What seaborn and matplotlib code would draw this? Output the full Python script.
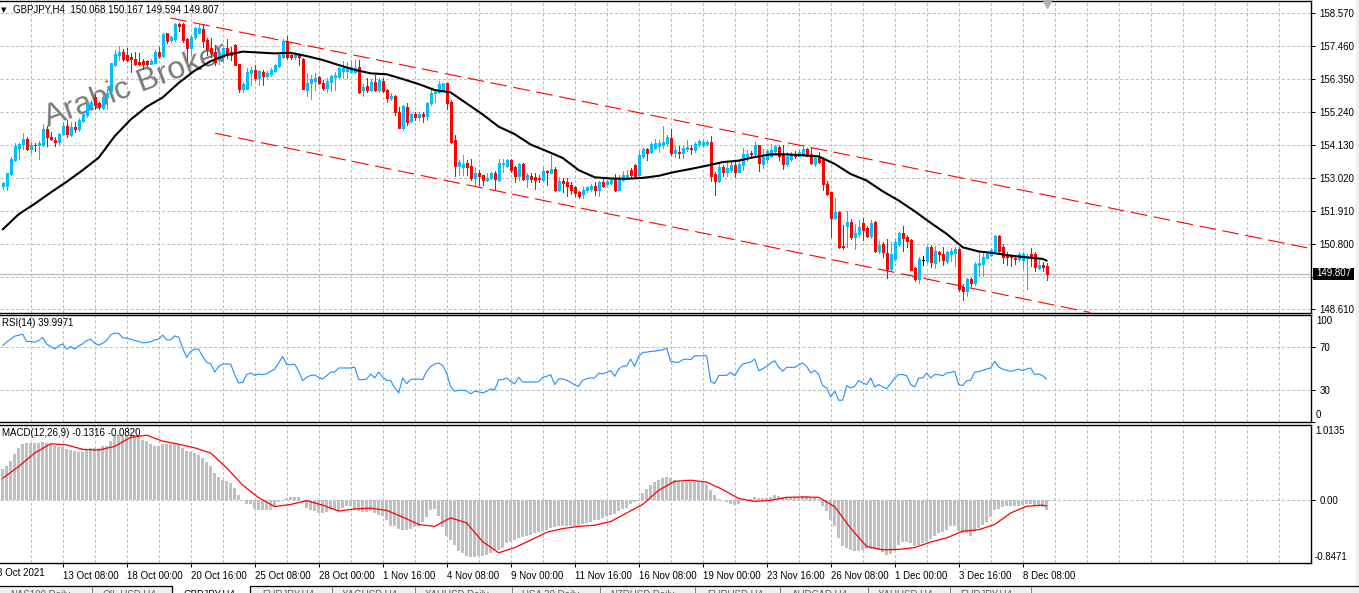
import numpy as np
import matplotlib
matplotlib.use("Agg")
import matplotlib.pyplot as plt
from matplotlib.patches import Rectangle
from matplotlib.lines import Line2D
import seaborn as sns

# OHLC of GBPJPY H4
opens = [152.74,152.74,153.14,153.63,154.04,154.15,154.34,153.98,154.14,154.11,
    154.12,154.66,154.4,154.29,154.21,154.49,154.76,154.45,154.73,154.66,
    154.94,155.13,155.41,155.72,155.52,155.38,155.72,155.95,156.8,157.15,
    157.26,157.15,157.07,157.0,156.9,156.95,156.94,156.86,156.89,157.26,
    157.11,157.87,157.65,157.67,158.19,158.19,157.68,157.37,157.74,157.9,
    158.02,157.65,157.37,157.26,156.98,157.09,157.37,157.26,157.48,156.84,
    156.02,156.02,156.53,156.64,156.39,156.58,156.44,156.5,156.62,156.78,
    157.09,157.59,157.15,157.07,157.15,157.0,155.98,156.19,156.27,156.41,
    156.2,156.05,156.25,156.42,156.42,156.62,156.62,156.58,156.58,156.73,
    155.97,156.1,155.97,156.25,155.97,156.28,155.97,155.69,155.77,155.24,
    154.68,155.41,154.93,155.16,155.05,155.16,155.1,155.52,155.86,155.91,
    155.97,156.19,155.58,154.29,153.41,153.39,153.52,153.41,153.0,153.17,
    153.11,152.94,153.0,153.17,152.94,153.48,153.41,153.61,153.37,153.08,
    153.48,152.97,153.09,153.05,153.03,152.94,153.26,153.19,153.33,152.63,
    152.92,152.89,152.77,152.7,152.53,152.49,152.6,152.66,152.74,152.63,
    152.89,152.8,152.85,152.97,152.63,152.95,153.03,153.28,153.44,153.11,
    153.75,154.0,153.89,154.04,154.08,154.12,154.2,154.35,153.86,153.9,
    153.84,154.0,154.04,153.97,154.15,154.14,154.17,154.21,153.15,152.93,
    153.38,153.21,153.29,153.44,153.23,153.44,153.76,153.86,153.83,154.11,
    153.49,153.66,153.77,153.92,154.07,153.83,153.47,153.66,153.83,153.77,
    153.81,154.0,153.83,153.49,153.69,153.66,152.82,152.53,151.67,151.86,
    150.74,151.42,151.55,151.05,151.12,151.52,151.33,151.08,151.53,150.55,
    150.8,150.51,149.96,150.3,150.8,151.16,151.02,150.95,149.99,149.62,
    150.26,150.22,150.71,150.17,150.53,150.46,150.22,150.46,150.51,150.64,
    149.37,149.21,149.61,149.48,150.1,150.13,150.33,150.44,150.58,151.08,
    150.71,150.44,150.41,150.33,150.28,150.26,150.33,150.46,150.46,149.99,150.1,150.068]
closes = [152.85,153.17,153.67,154.08,154.15,154.34,154.0,154.14,154.11,154.18,
    154.66,154.4,154.33,154.24,154.51,154.76,154.49,154.73,154.67,154.96,
    155.15,155.52,155.58,155.46,155.41,155.74,155.88,156.87,157.17,157.24,
    157.0,156.98,157.0,156.86,156.86,156.84,156.86,156.94,157.26,157.11,
    157.84,157.63,157.74,158.19,158.12,157.65,157.37,157.76,158.06,158.04,
    157.63,157.34,157.2,156.92,157.26,157.37,157.15,157.15,156.81,156.02,
    156.17,156.56,156.64,156.36,156.6,156.44,156.55,156.64,156.81,157.15,
    157.63,157.07,157.07,157.18,157.07,156.0,156.2,156.33,156.36,156.19,
    156.05,156.28,156.44,156.47,156.7,156.7,156.7,156.75,156.72,155.91,
    156.08,155.97,156.25,155.97,156.3,155.95,155.69,155.77,155.24,154.71,
    155.43,154.9,155.16,155.05,155.16,155.1,155.54,155.88,155.91,156.17,
    156.19,155.54,154.23,153.41,153.56,153.5,153.39,153.0,153.17,153.09,
    152.96,153.03,153.17,152.97,153.52,153.52,153.61,153.3,153.08,153.48,
    152.97,153.11,152.97,152.94,152.97,153.24,153.21,153.33,152.63,152.92,
    152.85,152.74,152.63,152.52,152.4,152.63,152.7,152.74,152.63,152.89,
    152.74,152.92,152.94,152.63,152.97,153.11,153.11,153.11,153.1,153.78,
    154.0,153.86,154.15,154.18,154.2,154.23,154.38,153.86,153.95,153.84,
    154.04,154.06,153.98,154.17,154.25,154.21,154.21,153.1,152.93,153.38,
    153.21,153.35,153.46,153.23,153.47,153.81,153.83,153.81,154.11,153.51,
    153.72,153.92,153.94,154.1,153.77,153.49,153.77,153.81,153.76,153.88,
    154.0,153.77,153.51,153.69,153.55,152.8,152.48,151.67,151.86,150.69,
    150.71,151.55,151.05,151.16,151.36,151.27,151.08,151.52,150.55,150.78,
    150.52,149.96,150.46,150.86,151.16,150.99,150.91,149.94,149.62,150.28,
    150.26,150.71,150.18,150.55,150.46,150.26,150.52,150.55,150.64,149.29,
    149.21,149.61,149.48,150.13,150.17,150.37,150.46,150.6,151.08,150.55,
    150.37,150.35,150.35,150.28,150.46,150.46,150.41,150.37,150.04,150.1,150.02,149.807]
highs = [152.89,153.19,153.73,154.2,154.2,154.53,154.38,154.23,154.18,154.27,
    154.82,154.76,154.57,154.4,154.53,154.9,154.96,154.9,154.9,155.02,
    155.2,155.58,155.62,155.8,155.58,155.8,156.02,156.89,157.31,157.45,
    157.34,157.39,157.2,157.26,157.2,157.0,156.98,157.0,157.31,157.4,
    157.87,157.9,157.8,158.21,158.21,158.23,157.71,157.82,158.1,158.19,
    158.19,157.71,157.71,157.48,157.37,157.4,157.67,157.43,157.5,156.86,
    156.25,156.7,156.75,156.81,156.64,156.64,156.62,156.7,156.86,157.2,
    157.67,157.78,157.26,157.26,157.2,157.04,156.53,156.47,156.55,156.44,
    156.3,156.36,156.47,156.58,156.75,156.95,156.92,156.98,156.98,156.98,
    156.17,156.36,156.33,156.47,156.36,156.36,156.0,155.88,155.8,155.41,
    155.46,155.52,155.2,155.24,155.24,155.24,155.58,155.99,156.02,156.28,
    156.22,156.22,155.63,154.46,153.62,153.78,153.61,153.67,153.37,153.28,
    153.13,153.2,153.22,153.26,153.64,153.64,153.64,153.64,153.41,153.52,
    153.52,153.17,153.17,153.17,153.11,153.39,153.3,153.78,153.37,153.05,
    153.03,153.0,152.89,152.74,152.58,152.72,152.74,152.83,152.89,152.92,
    153.03,152.96,153.03,153.14,153.11,153.26,153.28,153.35,153.5,153.93,
    154.04,154.04,154.23,154.34,154.29,154.76,154.46,154.66,154.08,154.08,
    154.08,154.29,154.14,154.23,154.31,154.33,154.3,154.44,153.21,153.55,
    153.44,153.51,153.55,153.63,153.6,154.03,153.96,153.92,154.21,154.14,
    154.0,154.0,154.16,154.14,154.14,154.14,153.88,153.88,153.92,153.99,
    154.05,154.03,154.03,153.77,153.88,153.72,152.9,152.55,152.35,151.9,
    151.45,151.9,151.64,151.47,151.61,151.67,151.39,151.61,151.56,150.91,
    150.86,150.98,150.86,150.97,151.19,151.42,151.11,150.97,150.04,150.35,
    150.41,150.78,150.76,150.73,150.58,150.69,150.58,150.67,150.69,150.69,
    149.46,149.66,149.66,150.18,150.52,150.52,150.52,150.67,151.09,151.11,
    150.8,150.53,150.44,150.41,150.52,150.52,150.48,150.67,150.52,150.26,150.18,150.167]
lows = [152.66,152.6,153.11,153.6,153.67,154.0,153.97,153.86,153.93,153.67,
    154.1,154.1,154.28,154.1,154.15,154.45,154.4,154.42,154.56,154.6,
    154.9,155.05,155.3,155.34,155.32,155.35,155.35,155.91,156.78,156.98,
    156.95,156.95,156.58,156.8,156.8,156.66,156.77,156.84,156.87,157.05,
    157.09,157.56,157.6,157.63,157.96,157.59,156.98,157.15,157.7,157.87,
    157.43,157.15,157.09,156.81,156.86,156.92,157.03,156.98,156.81,155.91,
    155.91,155.99,156.14,156.32,156.14,156.14,156.39,156.44,156.58,156.75,
    157.03,157.0,157.0,157.0,156.81,155.99,155.77,155.68,155.97,156.17,
    155.97,155.91,155.94,155.97,156.39,156.39,156.36,156.53,156.55,155.88,
    155.77,155.91,155.95,155.95,155.91,155.91,155.58,155.63,155.13,154.68,
    154.62,154.79,154.9,154.98,154.98,154.9,154.98,155.46,155.58,155.88,
    155.95,155.35,154.2,153.08,153.11,153.11,153.11,152.94,152.78,152.78,
    152.78,152.92,152.97,152.66,152.92,153.22,153.39,153.22,152.89,152.94,
    152.94,152.72,152.89,152.66,152.89,152.92,152.78,153.17,152.58,152.58,
    152.55,152.4,152.49,152.4,152.36,152.33,152.55,152.58,152.44,152.4,
    152.7,152.74,152.8,152.58,152.6,152.92,152.97,153.05,153.08,153.08,
    153.7,153.62,153.86,154.0,153.89,154.04,154.08,153.78,153.72,153.7,
    153.7,153.93,153.82,153.89,154.08,154.05,154.12,152.93,152.46,152.87,
    153.1,153.1,153.21,153.06,153.21,153.29,153.6,153.69,153.78,153.24,
    153.36,153.51,153.72,153.83,153.63,153.32,153.42,153.6,153.69,153.74,
    153.76,153.74,153.47,153.42,153.51,152.6,152.43,151.05,151.63,150.67,
    150.63,150.71,150.97,150.63,151.05,150.94,151.05,151.0,150.52,150.49,
    150.37,149.66,149.9,150.24,150.74,150.58,150.71,149.93,149.57,149.48,
    150.11,150.15,150.04,150.01,150.24,150.11,150.15,150.24,150.06,149.23,
    148.92,149.05,149.4,149.43,149.74,149.74,150.3,150.4,150.55,150.49,
    150.15,150.11,150.06,150.13,150.24,149.96,149.29,150.07,149.91,149.95,149.9,149.594]

# moving average, read every 4th candle
ma_idx = list(range(0, 261, 4)) + [261]
ma_vals = [151.29,151.8,152.15,152.53,152.89,153.28,153.7,154.42,154.98,155.41,155.72,
    156.21,156.62,156.94,157.15,157.26,157.23,157.2,157.22,157.11,156.98,156.81,
    156.65,156.53,156.5,156.34,156.17,155.97,155.89,155.52,155.15,154.74,154.49,
    154.14,153.92,153.69,153.28,153.04,153.0,152.99,153.02,153.09,153.22,153.32,
    153.43,153.55,153.6,153.72,153.81,153.81,153.78,153.74,153.49,153.15,152.93,
    152.57,152.26,151.9,151.51,151.14,150.69,150.55,150.49,150.41,150.35,150.3,150.24]

rsi_vals = [71.6,74.7,77.4,80.2,81.2,82.1,75.3,75.3,74.7,76.2,79.0,72.8,70.6,68.1,71.2,73.1,
    68.1,70.6,68.1,71.2,73.1,76.2,77.4,73.7,71.9,73.7,76.2,81.5,83.0,83.0,78.7,78.4,
    77.4,76.2,75.3,74.0,74.3,75.0,76.8,77.4,81.2,76.8,76.8,80.5,79.3,69.1,60.4,66.0,
    68.1,68.1,61.3,55.7,54.5,46.7,52.0,54.2,54.2,54.2,44.3,36.5,37.1,44.3,45.8,43.6,
    44.9,44.3,44.9,47.4,49.5,55.1,61.3,53.6,53.6,54.2,47.4,38.7,41.8,43.6,44.0,41.8,
    40.2,43.3,46.7,46.7,50.5,50.5,50.5,50.5,51.4,39.6,39.6,40.2,44.9,41.2,46.7,42.0,
    39.0,38.7,31.9,27.2,41.2,35.9,39.6,40.2,40.2,39.6,47.4,52.0,54.2,55.1,52.9,45.8,
    32.8,28.8,29.7,29.7,29.1,26.3,28.8,28.1,27.2,28.8,30.9,30.0,39.6,
    39.6,41.2,38.1,35.6,41.8,37.4,37.4,37.4,37.4,37.7,41.8,42.7,44.3,35.0,40.2,40.2,
    39.0,37.1,34.7,33.4,39.0,40.5,41.2,41.2,45.8,44.9,46.4,48.0,42.7,49.5,52.0,52.6,
    58.8,52.0,61.3,65.0,65.3,66.0,66.3,66.9,67.5,69.1,56.7,56.0,55.7,58.2,58.8,58.2,
    61.9,61.9,61.9,61.9,38.1,35.9,43.6,43.6,43.6,46.4,43.3,49.5,54.2,55.1,56.0,58.8,
    48.0,49.8,52.0,55.1,57.3,51.4,47.4,51.1,51.1,51.1,53.3,55.1,52.0,45.8,48.3,44.3,
    34.0,31.9,23.5,28.8,20.4,20.4,34.0,31.9,33.4,38.7,36.5,35.0,41.2,32.8,35.0,32.8,
    31.2,35.9,41.2,44.3,44.3,43.3,35.0,32.8,41.2,41.2,45.8,41.2,44.3,44.3,43.3,45.8,
    46.4,47.4,35.0,34.0,38.7,39.0,46.7,47.0,48.3,49.5,50.5,56.7,51.4,49.5,48.3,47.4,
    48.3,49.5,48.0,49.5,50.5,44.3,44.9,43.3,40.0]

macd_hist = [0.41,0.46,0.52,0.62,0.70,0.75,0.76,0.77,0.76,0.76,0.78,0.77,0.75,0.72,0.71,0.71,
    0.68,0.67,0.66,0.65,0.65,0.68,0.70,0.70,0.70,0.72,0.73,0.79,0.87,0.88,0.86,0.87,
    0.87,0.87,0.84,0.81,0.79,0.75,0.73,0.73,0.75,0.75,0.75,0.77,0.75,0.70,0.66,0.65,
    0.63,0.61,0.57,0.51,0.45,0.36,0.31,0.27,0.26,0.23,0.16,0.06,0.0,-0.05,-0.06,-0.12,
    -0.13,-0.14,-0.14,-0.14,-0.09,-0.03,-0.01,0.03,0.04,0.045,0.04,0.0,-0.11,-0.13,-0.15,-0.175,
    -0.175,-0.16,-0.14,-0.14,-0.13,-0.11,-0.085,-0.085,-0.13,-0.15,-0.16,-0.16,-0.15,-0.175,-0.20,-0.22,
    -0.27,-0.35,-0.355,-0.39,-0.40,-0.40,-0.39,-0.37,-0.355,-0.29,-0.23,-0.13,-0.12,-0.22,-0.37,-0.48,
    -0.54,-0.60,-0.68,-0.71,-0.75,-0.76,-0.76,-0.75,-0.75,-0.74,-0.71,-0.69,-0.67,-0.64,-0.58,-0.56,
    -0.535,-0.51,-0.50,-0.49,-0.47,-0.445,-0.435,-0.42,-0.40,-0.38,-0.365,-0.355,-0.345,-0.345,-0.345,-0.345,
    -0.33,-0.32,-0.31,-0.30,-0.27,-0.265,-0.24,-0.22,-0.20,-0.185,-0.15,-0.12,-0.11,-0.06,-0.03,0.005,
    0.09,0.15,0.20,0.24,0.265,0.29,0.31,0.30,0.27,0.26,0.24,0.24,0.24,0.245,0.245,0.25,
    0.205,0.14,0.06,0.015,-0.005,-0.03,-0.05,-0.07,-0.06,-0.02,-0.005,0.015,0.04,0.03,0.02,0.03,
    0.04,0.07,0.05,0.035,0.03,0.03,0.035,0.04,0.05,0.05,0.03,0.02,0.015,-0.08,-0.15,-0.27,
    -0.355,-0.51,-0.625,-0.65,-0.67,-0.69,-0.68,-0.67,-0.66,-0.66,-0.66,-0.67,-0.705,-0.745,-0.73,-0.68,
    -0.60,-0.57,-0.56,-0.58,-0.625,-0.60,-0.58,-0.56,-0.525,-0.48,-0.445,-0.435,-0.40,-0.355,-0.355,-0.42,
    -0.445,-0.445,-0.48,-0.42,-0.38,-0.33,-0.29,-0.23,-0.14,-0.12,-0.095,-0.085,-0.085,-0.085,-0.075,-0.065,
    -0.055,-0.055,-0.075,-0.085,-0.095,-0.1316]

signal_idx = list(range(0, 261, 4)) + [261]
signal_vals = [0.29,0.45,0.63,0.755,0.74,0.68,0.67,0.72,0.84,0.87,0.79,0.75,0.70,0.63,0.43,0.20,
    0.03,-0.09,-0.06,-0.01,-0.07,-0.15,-0.12,-0.11,-0.14,-0.23,-0.33,-0.355,-0.24,-0.31,-0.56,-0.71,
    -0.64,-0.54,-0.435,-0.385,-0.355,-0.34,-0.29,-0.175,-0.06,0.13,0.25,0.265,0.24,0.14,0.02,-0.02,
    -0.005,0.035,0.04,0.035,-0.09,-0.38,-0.625,-0.67,-0.665,-0.64,-0.565,-0.51,-0.42,-0.40,-0.33,-0.175,
    -0.085,-0.07,-0.082]

# channel lines, two anchor candles each
upper_x = [41.9, 326.9]
upper_y = [158.39, 150.65]
lower_x = [53.1, 271.9]
lower_y = [154.52, 148.5]

price_ticks = [158.57,157.46,156.35,155.24,154.13,153.02,151.91,150.80,149.69,148.61]
last_price = 149.807
date_labels = ["13 Oct 08:00","18 Oct 00:00","20 Oct 16:00","25 Oct 08:00","28 Oct 00:00",
    "1 Nov 16:00","4 Nov 08:00","9 Nov 00:00","11 Nov 16:00","16 Nov 08:00","19 Nov 00:00",
    "23 Nov 16:00","26 Nov 08:00","1 Dec 00:00","3 Dec 16:00","8 Dec 08:00"]
tab_names = ["NAS100,Daily","OIL,USD,H4","GBPJPY,H4","EURJPY,H4","XAGUSD,H4","XAUUSD,Daily",
    "USA 30,Daily","NZDUSD,Daily","EURUSD,H4","AUDCAD,H4","XAUUSD,H4","EURJPY,H4"]
tab_x = [10,103,184,262,342,425,522,610,707,792,878,960]
tab_seps = [92,332,415,512,600,695,780,868,950,1031]

W, H = 1359, 593
sns.set_theme(style="white")
plt.rcParams["font.family"] = ["Liberation Sans", "DejaVu Sans"]
plt.rcParams["font.size"] = 7
GREY = "#c0c0c0"
UP = "#00bfff"
DOWN = "#ff0000"


def pane(top, bottom):
    ax = fig.add_axes([0, 1 - bottom / H, 1311 / W, (bottom - top) / H])
    return ax


def fx(px):
    return px / W


def fy(py):
    return 1 - py / H


fig = plt.figure(figsize=(W / 100, H / 100), dpi=100, facecolor="white")
ax_main = pane(1.0, 312.5)
ax_rsi = pane(314.5, 422)
ax_macd = pane(424.5, 563)

candle_idx = np.arange(len(opens))
o, c, hi, lo = map(np.array, (opens, closes, highs, lows))
colors = np.where(c > o, UP, np.where(c < o, DOWN, "black"))

# price pane
ax_main.vlines(candle_idx, lo, hi, colors=colors, lw=0.72, zorder=3, antialiased=False)
ax_main.bar(candle_idx, np.abs(c - o), bottom=np.minimum(o, c), width=0.5, color=colors,
            edgecolor=colors, linewidth=0.72, zorder=3, antialiased=False)
sns.lineplot(x=ma_idx, y=ma_vals, color="black", lw=1.5, ax=ax_main, zorder=5, errorbar=None)
for xs, ys in ((upper_x, upper_y), (lower_x, lower_y)):
    ax_main.plot(xs, ys, color=DOWN, lw=0.8, ls=(0, (15, 6)), zorder=4)
ax_main.axhline(last_price, color=GREY, lw=1.0, zorder=2)
ax_main.plot([261], [158.86], marker="v", ms=6, color="#b0b0b0", zorder=4, clip_on=False)
ax_main.set_ylim(148.50, 158.96)
ax_main.set_yticks(price_ticks)
# the 149.690 label sits under the last-price box
ax_main.set_yticklabels(["" if p == 149.69 else f"{p:.3f}" for p in price_ticks])
ax_main.text(fx(48), fy(127), "Arabic Broker", transform=fig.transFigure, rotation=20.5,
             rotation_mode="anchor", ha="left", va="baseline", fontsize=23, color="#7a7a7a",
             zorder=2.5)

# rsi pane
sns.lineplot(x=candle_idx, y=rsi_vals, color="#1e90ff", lw=0.8, ax=ax_rsi, zorder=3, errorbar=None)
ax_rsi.set_ylim(0, 100.5)
ax_rsi.set_yticks([70, 30, 0])
ax_rsi.set_yticklabels(["70", "30", ""])

# macd pane
sns.barplot(x=candle_idx, y=macd_hist, native_scale=True, color=GREY, saturation=1,
            width=0.75, ax=ax_macd, zorder=3, errorbar=None)
for bar in ax_macd.patches:
    bar.set_antialiased(False)
    bar.set_linewidth(0)
sns.lineplot(x=signal_idx, y=signal_vals, color=DOWN, lw=0.9, ax=ax_macd, zorder=4, errorbar=None)
ax_macd.set_ylim(-0.8471, 1.0135)
ax_macd.set_yticks([0])
ax_macd.set_yticklabels(["0.00"])

major_x = list(range(15, 320, 16))
minor_x = list(range(7, 320, 16))
for ax in (ax_main, ax_rsi, ax_macd):
    ax.set_xlim(-0.67, 327.08)
    ax.set_xlabel("")
    ax.set_ylabel("")
    ax.set_xticks(major_x)
    ax.set_xticks(minor_x, minor=True)
    ax.grid(True, which="both", axis="both", color=GREY, lw=0.75, ls=(0, (3, 2)))
    ax.set_axisbelow(True)
    ax.yaxis.tick_right()
    ax.tick_params(axis="y", which="major", direction="out", length=3, width=0.72, pad=3,
                   labelsize=7, colors="black", right=True, left=False)
    ax.tick_params(axis="x", which="both", length=0, labelbottom=False)
    ax.spines["left"].set_visible(False)
    for side in ("top", "right", "bottom"):
        ax.spines[side].set_color("black")
        ax.spines[side].set_linewidth(1.0)

# date axis under the last pane, labels start at the tick
date_ticks = major_x[:len(date_labels)]
ax_macd.set_xticks(date_ticks)
ax_macd.set_xticklabels(date_labels, ha="left")
ax_macd.tick_params(axis="x", which="major", direction="out", length=3, width=0.72, color="black",
                    pad=3, labelbottom=True, labelsize=7, labelcolor="black", bottom=True)
# later dates grid continues past the last label
for x in major_x[len(date_labels):]:
    ax_macd.axvline(x, color=GREY, lw=0.75, ls=(0, (3, 2)), zorder=1)

# pane captions and clamped axis labels
fig.text(fx(-3), fy(573), "8 Oct 2021", ha="left", va="center", color="black")
fig.text(fx(4), fy(10), "\u25bc", fontsize=5, ha="center", va="center", color="black",
         family="DejaVu Sans")
fig.text(fx(13), fy(9.5), "GBPJPY,H4  150.068 150.167 149.594 149.807", ha="left", va="center", color="black")
fig.text(fx(2), fy(323.5), "RSI(14) 39.9971", ha="left", va="center", color="black")
fig.text(fx(2), fy(433.5), "MACD(12,26,9) -0.1316 -0.0820", ha="left", va="center", color="black")
fig.text(fx(1316), fy(321.5), "100", ha="left", va="center", color="black")
fig.text(fx(1316), fy(415), "0", ha="left", va="center", color="black")
fig.text(fx(1315), fy(431), "1.0135", ha="left", va="center", color="black")
fig.text(fx(1315), fy(556.5), "-0.8471", ha="left", va="center", color="black")
fig.add_artist(Rectangle((fx(1313), fy(279.5)), 41 / W, 11.5 / H, transform=fig.transFigure,
                         facecolor="black", edgecolor="none", zorder=5))
fig.text(fx(1333.5), fy(273.5), f"{last_price:.3f}", ha="center", va="center", color="white", zorder=6)

# window chrome: right border and tab strip
fig.add_artist(Rectangle((fx(1356), 0), 3 / W, 1, transform=fig.transFigure,
                         facecolor="#f0f0f0", edgecolor="none", zorder=-1))
fig.add_artist(Rectangle((0, 0), 1, 7 / H, transform=fig.transFigure,
                         facecolor="#f0f0f0", edgecolor="none", zorder=1))
fig.add_artist(Rectangle((fx(172), 0), 78 / W, 8 / H, transform=fig.transFigure,
                         facecolor="white", edgecolor="none", zorder=1.5))
fig.add_artist(Line2D([0, fx(172), fx(172)], [fy(586), fy(586), 0], color="black", lw=0.9,
                      transform=fig.transFigure, zorder=2))
fig.add_artist(Line2D([fx(250), fx(250), 1], [0, fy(586), fy(586)], color="black", lw=0.9,
                      transform=fig.transFigure, zorder=2))
for sx in tab_seps:
    fig.add_artist(Line2D([fx(sx), fx(sx)], [0, fy(587)], color="#808080", lw=0.72,
                          transform=fig.transFigure, zorder=2))
for name, tx in zip(tab_names, tab_x):
    col = "black" if name == "GBPJPY,H4" else "#606060"
    fig.text(fx(tx), fy(589.5), name, ha="left", va="top", color=col, zorder=3)

fig.savefig("out.png", dpi=100)
